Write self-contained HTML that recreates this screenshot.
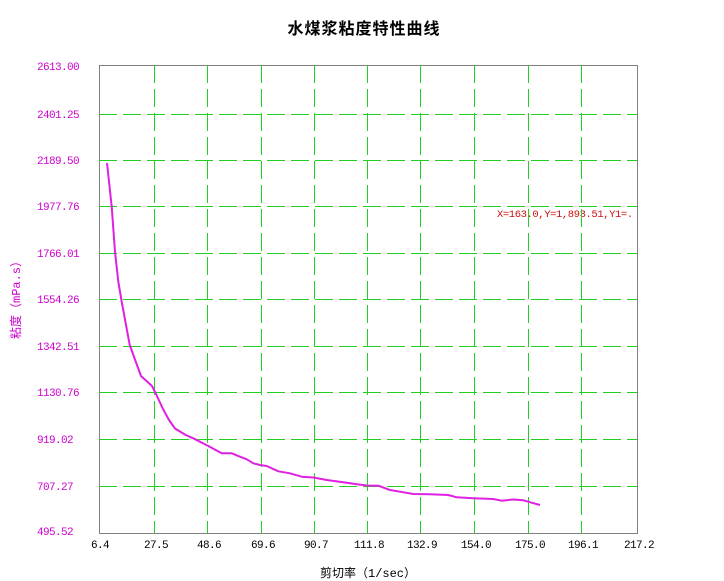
<!DOCTYPE html>
<html>
<head>
<meta charset="utf-8">
<style>
  html,body{margin:0;padding:0;background:#fff;}
  svg{display:block;}
  .yl{font-family:"Liberation Mono","Noto Sans CJK SC",monospace;font-size:11px;letter-spacing:-0.6px;fill:#cc00cc;}
  .xl{font-family:"Liberation Mono","Noto Sans CJK SC",monospace;font-size:11px;letter-spacing:-0.6px;fill:#000;}
</style>
</head>
<body>
<svg width="724" height="581" viewBox="0 0 724 581" xmlns="http://www.w3.org/2000/svg">
  <rect width="724" height="581" fill="#fff"/>
  <!-- title -->
  <text x="364" y="34" text-anchor="middle" font-family="'Noto Sans CJK SC','WenQuanYi Zen Hei',sans-serif" font-size="16" font-weight="bold" letter-spacing="1" fill="#000">水煤浆粘度特性曲线</text>

  <!-- annotation (drawn beneath grid) -->
  <text x="497" y="217" font-family="'Liberation Mono',monospace" font-size="10.5" letter-spacing="-0.4" fill="#cc1111">X=163.0,Y=1,893.51,Y1=.</text>

  <!-- frame -->
  <rect x="99.5" y="65.5" width="538" height="468" fill="none" stroke="#808080" stroke-width="1"/>

  <!-- horizontal grid -->
  <g stroke="#22d022" stroke-width="1" stroke-dasharray="18,6" fill="none">
    <line x1="99" y1="114.5" x2="637" y2="114.5"/>
    <line x1="99" y1="160.5" x2="637" y2="160.5"/>
    <line x1="99" y1="206.5" x2="637" y2="206.5"/>
    <line x1="99" y1="253.5" x2="637" y2="253.5"/>
    <line x1="99" y1="299.5" x2="637" y2="299.5"/>
    <line x1="99" y1="346.5" x2="637" y2="346.5"/>
    <line x1="99" y1="392.5" x2="637" y2="392.5"/>
    <line x1="99" y1="439.5" x2="637" y2="439.5"/>
    <line x1="99" y1="486.5" x2="637" y2="486.5"/>
    <!-- vertical grid -->
    <line x1="154.5" y1="65" x2="154.5" y2="533"/>
    <line x1="207.5" y1="65" x2="207.5" y2="533"/>
    <line x1="261.5" y1="65" x2="261.5" y2="533"/>
    <line x1="314.5" y1="65" x2="314.5" y2="533"/>
    <line x1="367.5" y1="65" x2="367.5" y2="533"/>
    <line x1="420.5" y1="65" x2="420.5" y2="533"/>
    <line x1="474.5" y1="65" x2="474.5" y2="533"/>
    <line x1="528.5" y1="65" x2="528.5" y2="533"/>
    <line x1="581.5" y1="65" x2="581.5" y2="533"/>
  </g>

  <!-- curve -->
  <polyline fill="none" stroke="#e020e0" stroke-width="2" stroke-linejoin="round"
    points="107,163 111.7,206.7 115,251.7 118.3,281.7 121.7,301.7 129.7,345 141,376 152,386 155.5,393 163,409 169,420 175,428.5 185.7,435 193.3,438.3 208.3,446 221.7,453.3 231.7,453.3 240,456.7 246.7,459.3 253.3,463.3 260,465 266.7,466 278.3,471.3 290,473.3 301.7,476.7 313.3,477.5 326.7,480 343.3,482.3 356.7,484.3 366.7,485.5 378.3,485.7 390,490 400,491.7 413.3,494 430,494.3 448.3,495 456.7,497.3 473.3,498.3 493.3,499 501.7,500.7 513.3,499.5 523.3,500.3 531.7,502.7 540,505"/>

  <!-- y tick labels -->
  <g class="yl">
    <text x="37" y="70">2613.00</text>
    <text x="37" y="118">2401.25</text>
    <text x="37" y="164">2189.50</text>
    <text x="37" y="210">1977.76</text>
    <text x="37" y="257">1766.01</text>
    <text x="37" y="303">1554.26</text>
    <text x="37" y="350">1342.51</text>
    <text x="37" y="396">1130.76</text>
    <text x="37" y="443">919.02</text>
    <text x="37" y="490">707.27</text>
    <text x="37" y="535">495.52</text>
  </g>

  <!-- x tick labels -->
  <g class="xl" text-anchor="middle">
    <text x="100" y="548">6.4</text>
    <text x="156" y="548">27.5</text>
    <text x="209" y="548">48.6</text>
    <text x="263" y="548">69.6</text>
    <text x="316" y="548">90.7</text>
    <text x="369" y="548">111.8</text>
    <text x="422" y="548">132.9</text>
    <text x="476" y="548">154.0</text>
    <text x="530" y="548">175.0</text>
    <text x="583" y="548">196.1</text>
    <text x="639" y="548">217.2</text>
  </g>

  <!-- x axis title -->
  <text x="320" y="577" font-family="'Liberation Mono','Noto Sans CJK SC',monospace" font-size="12" fill="#000">剪切率（1/sec）</text>

  <!-- y axis title -->
  <text transform="translate(20,297) rotate(-90)" text-anchor="middle" font-family="'Liberation Mono','Noto Sans CJK SC',monospace" font-size="12" fill="#cc00cc">粘度（mPa.s）</text>
</svg>
</body>
</html>
